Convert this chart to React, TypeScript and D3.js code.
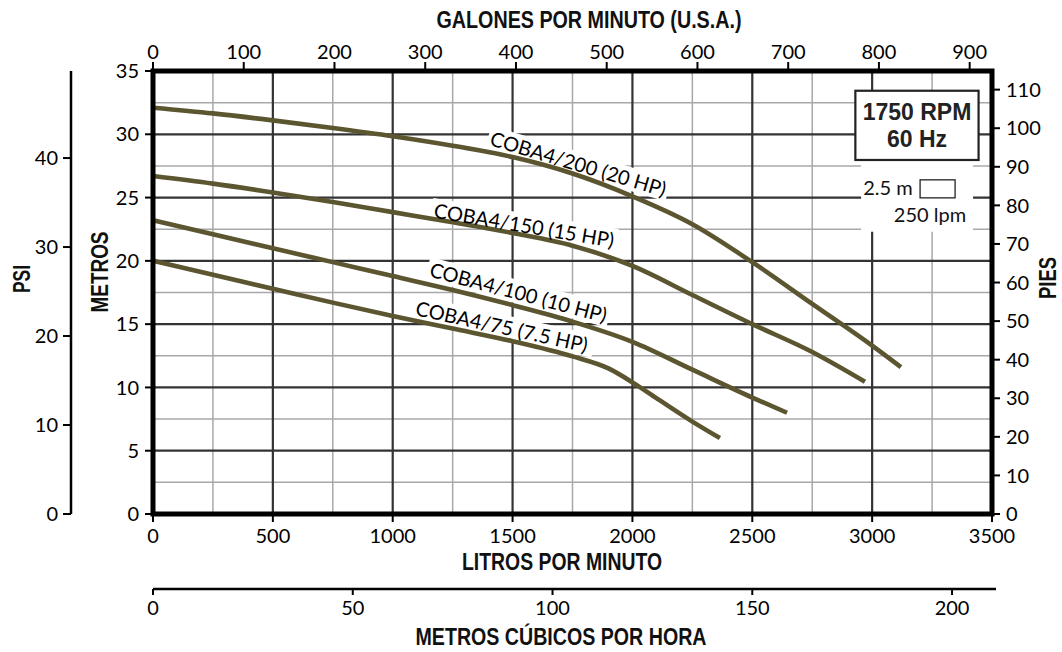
import React from 'react';
import * as d3 from 'd3';

// ---------- data ----------
const lpmTicks = [0, 500, 1000, 1500, 2000, 2500, 3000, 3500];
const lpmMinor = [250, 750, 1250, 1750, 2250, 2750, 3250];
const meterTicks = [0, 5, 10, 15, 20, 25, 30, 35];
const meterMinor = [2.5, 7.5, 12.5, 17.5, 22.5, 27.5, 32.5];
const gpmTicks = [0, 100, 200, 300, 400, 500, 600, 700, 800, 900];
const psiTicks = [0, 10, 20, 30, 40];
const ftTicks = [0, 10, 20, 30, 40, 50, 60, 70, 80, 90, 100, 110];
const m3hTicks = [0, 50, 100, 150, 200];

const flow20 = [0, 250, 500, 750, 1000, 1250, 1500, 1750, 2000, 2250, 2500, 2750, 3000, 3120];
const head20 = [32.1, 31.65, 31.1, 30.5, 29.85, 29.1, 28.2, 26.9, 25.1, 22.9, 19.9, 16.6, 13.3, 11.6];

const flow15 = [0, 250, 500, 750, 1000, 1250, 1500, 1750, 2000, 2250, 2500, 2750, 2970];
const head15 = [26.7, 26.1, 25.4, 24.65, 23.85, 23.05, 22.2, 21.2, 19.6, 17.3, 15.0, 12.8, 10.45];

const flow10 = [0, 250, 500, 750, 1000, 1250, 1500, 1750, 2000, 2250, 2500, 2645];
const head10 = [23.2, 22.1, 21.0, 19.9, 18.8, 17.7, 16.5, 15.2, 13.6, 11.4, 9.2, 8.0];

const flow75 = [0, 250, 500, 750, 1000, 1250, 1500, 1750, 1900, 2000, 2100, 2250, 2365];
const head75 = [20.0, 18.9, 17.8, 16.7, 15.65, 14.65, 13.65, 12.45, 11.5, 10.4, 9.15, 7.3, 6.0];

const seriesNames = ['COBA4/200 (20 HP)', 'COBA4/150 (15 HP)', 'COBA4/100 (10 HP)', 'COBA4/75 (7.5 HP)'];
const seriesFlows = [flow20, flow15, flow10, flow75];
const seriesHeads = [head20, head15, head10, head75];
// label anchor (flow lpm, head m) and rotation
const labelFlow = [1774, 1548, 1524, 1455];
const labelHead = [27.65, 22.8, 17.5, 14.8];
const labelAngle = [16.5, 9.5, 14.8, 12.3];

// ---------- layout ----------
const W = 1062;
const H = 652;
const PL = 153, PR = 992, PT = 71, PB = 514;
const CURVE = '#5b5530';
const BOLD = "'Liberation Sans', Arial, sans-serif";
const REG = "Lato, 'Open Sans', sans-serif";

const x = d3.scaleLinear().domain([0, 3500]).range([PL, PR]);
const y = d3.scaleLinear().domain([0, 35]).range([PB, PT]);
const xG = (g: number) => x(g * 3.785411784);
const yPsi = (p: number) => y(p * 0.70307);
const yFt = (f: number) => y(f * 0.3048);
const xM3 = (m: number) => x((m * 1000) / 60);

const line = d3
  .line<[number, number]>()
  .x((d) => x(d[0]))
  .y((d) => y(d[1]))
  .curve(d3.curveMonotoneX);

function Title(props: { x: number; y: number; len: number; rot?: boolean; size?: number; children: string }) {
  const { x: tx, y: ty, len, rot, size = 24, children } = props;
  return (
    <text
      transform={`translate(${tx},${ty})${rot ? ' rotate(-90)' : ''}`}
      textAnchor="middle"
      fontSize={size}
      fontWeight="bold"
      fontFamily={BOLD}
      fill="#111"
      textLength={len}
      lengthAdjust="spacingAndGlyphs"
    >
      {children}
    </text>
  );
}

export default function App() {
  const psiX = 71;
  const m3Y = 589;
  return (
    <svg
      width={W}
      height={H}
      style={{ position: 'absolute', left: 0, top: 0, background: '#fff' }}
      fontFamily={REG}
    >
      <rect x={0} y={0} width={W} height={H} fill="#fff" />
      {/* minor grid */}
      {lpmMinor.map((v) => (
        <line key={'vm' + v} x1={x(v)} x2={x(v)} y1={PT} y2={PB} stroke="#a8a8a8" strokeWidth={1.5} />
      ))}
      {meterMinor.map((v) => (
        <line key={'hm' + v} x1={PL} x2={PR} y1={y(v)} y2={y(v)} stroke="#a8a8a8" strokeWidth={1.5} />
      ))}
      {/* major grid */}
      {lpmTicks.slice(1, -1).map((v) => (
        <line key={'vM' + v} x1={x(v)} x2={x(v)} y1={PT} y2={PB} stroke="#333" strokeWidth={2.2} />
      ))}
      {meterTicks.slice(1, -1).map((v) => (
        <line key={'hM' + v} x1={PL} x2={PR} y1={y(v)} y2={y(v)} stroke="#333" strokeWidth={2.2} />
      ))}

      {/* scale legend white area */}
      <rect x={x(2954)} y={y(27.9)} width={x(3421) - x(2954)} height={y(22.3) - y(27.9)} fill="#fff" />
      <text x={x(2963)} y={y(25.2)} fontSize={20} fill="#111">2.5 m</text>
      <rect x={x(3200)} y={y(26.4)} width={35} height={18} fill="#fff" stroke="#222" strokeWidth={1.3} />
      <text x={x(3392)} y={y(23.05)} fontSize={20} fill="#111" textAnchor="end">250 lpm</text>

      {/* label white boxes */}
      {seriesNames.map((n, i) => (
        <g key={'lb' + i} transform={`translate(${x(labelFlow[i])},${y(labelHead[i])}) rotate(${labelAngle[i]})`}>
          <rect x={-94} y={-12} width={188} height={23} fill="#fff" />
        </g>
      ))}

      {/* curves */}
      {seriesNames.map((n, i) => (
        <path
          key={'c' + i}
          d={line(seriesFlows[i].map((f, j) => [f, seriesHeads[i][j]] as [number, number])) || ''}
          fill="none"
          stroke={CURVE}
          strokeWidth={4.6}
          strokeLinejoin="round"
        />
      ))}

      {/* label texts */}
      {seriesNames.map((n, i) => (
        <g key={'lt' + i} transform={`translate(${x(labelFlow[i])},${y(labelHead[i])}) rotate(${labelAngle[i]})`}>
          <text x={0} y={0} dy="0.36em" textAnchor="middle" fontSize={20} fill="#000">
            {n}
          </text>
        </g>
      ))}

      {/* RPM box */}
      <rect
        x={x(2930)}
        y={y(33.44)}
        width={x(3444) - x(2930)}
        height={y(27.97) - y(33.44)}
        fill="#fff"
        stroke="#222"
        strokeWidth={2.2}
      />
      <text x={x(3187)} y={y(31.1)} textAnchor="middle" fontSize={23} fontWeight="bold" fontFamily={BOLD} fill="#222">
        1750 RPM
      </text>
      <text x={x(3187)} y={y(29.0)} textAnchor="middle" fontSize={23} fontWeight="bold" fontFamily={BOLD} fill="#222">
        60 Hz
      </text>

      {/* frame */}
      <rect x={PL} y={PT} width={PR - PL} height={PB - PT} fill="none" stroke="#000" strokeWidth={5} />

      {/* left metros axis */}
      {meterTicks.map((v) => (
        <g key={'lt' + v}>
          <line x1={PL - 8} x2={PL} y1={y(v)} y2={y(v)} stroke="#000" strokeWidth={2} />
          <text x={PL - 14} y={y(v)} dy="0.36em" textAnchor="end" fontSize={20}>
            {v}
          </text>
        </g>
      ))}
      {/* right pies axis */}
      {ftTicks.map((v) => (
        <g key={'rt' + v}>
          <line x1={PR} x2={PR + 8} y1={yFt(v)} y2={yFt(v)} stroke="#000" strokeWidth={2} />
          <text x={PR + 14} y={yFt(v)} dy="0.36em" textAnchor="start" fontSize={20}>
            {v}
          </text>
        </g>
      ))}
      {/* top gpm axis */}
      {gpmTicks.map((v) => (
        <g key={'tt' + v}>
          <line x1={xG(v)} x2={xG(v)} y1={PT - 9} y2={PT} stroke="#000" strokeWidth={2} />
          <text x={xG(v)} y={PT - 12} textAnchor="middle" fontSize={20}>
            {v}
          </text>
        </g>
      ))}
      {/* bottom lpm axis */}
      {lpmTicks.map((v) => (
        <g key={'bt' + v}>
          <line x1={x(v)} x2={x(v)} y1={PB} y2={PB + 8} stroke="#000" strokeWidth={2} />
          <text x={x(v)} y={PB + 29} textAnchor="middle" fontSize={20}>
            {v}
          </text>
        </g>
      ))}
      {/* psi axis */}
      <line x1={psiX} x2={psiX} y1={PT} y2={PB} stroke="#000" strokeWidth={2.5} />
      {psiTicks.map((v) => (
        <g key={'pt' + v}>
          <line x1={psiX - 8} x2={psiX} y1={yPsi(v)} y2={yPsi(v)} stroke="#000" strokeWidth={2} />
          <text x={psiX - 13} y={yPsi(v)} dy="0.36em" textAnchor="end" fontSize={20}>
            {v}
          </text>
        </g>
      ))}
      {/* m3/h axis */}
      <line x1={PL} x2={PR + 4} y1={m3Y} y2={m3Y} stroke="#000" strokeWidth={2.5} />
      {m3hTicks.map((v) => (
        <g key={'mt' + v}>
          <line x1={xM3(v)} x2={xM3(v)} y1={m3Y} y2={m3Y + 6} stroke="#000" strokeWidth={2} />
          <text x={xM3(v)} y={m3Y + 26} textAnchor="middle" fontSize={20}>
            {v}
          </text>
        </g>
      ))}

      {/* titles */}
      <Title x={589} y={28} len={305}>GALONES POR MINUTO (U.S.A.)</Title>
      <Title x={562} y={570} len={200}>LITROS POR MINUTO</Title>
      <Title x={561} y={645} len={291}>METROS CÚBICOS POR HORA</Title>
      <Title x={30} y={279} len={28} size={23} rot>PSI</Title>
      <Title x={108} y={272} len={81} size={23} rot>METROS</Title>
      <Title x={1056} y={278} len={42} size={23} rot>PIES</Title>
    </svg>
  );
}
